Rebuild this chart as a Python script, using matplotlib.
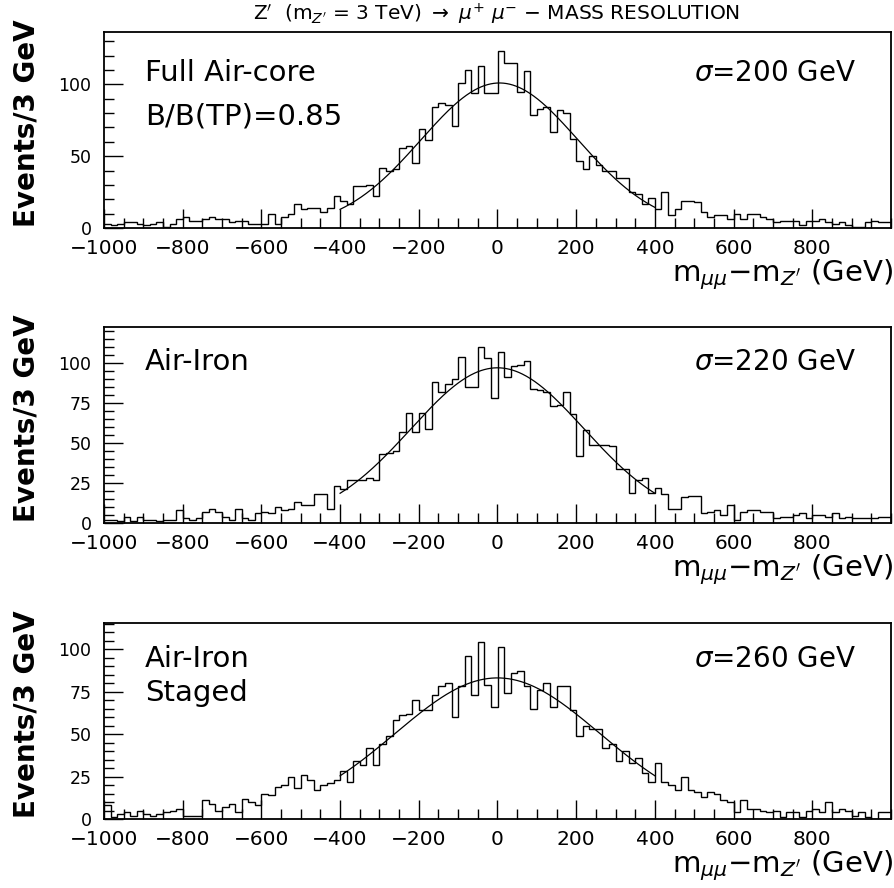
import numpy as np
import matplotlib
matplotlib.use("Agg")
import matplotlib.pyplot as plt
from matplotlib.ticker import MultipleLocator

plt.rcParams['font.family'] = ['DejaVu Sans']

# bin edges: 120 bins of 16.7 GeV between -1000 and 1000
x_lo, x_hi, n_bins = -1000, 1000, 120

# counts per bin
full_aircore = [3, 2, 3, 4, 4, 3, 2, 3, 4, 1, 3, 6, 8, 5, 5, 6, 8, 6, 6, 4, 5, 5, 3, 3, 3, 10, 3, 8, 10, 17, 13, 14, 14, 11, 14, 22,
                19, 17, 29, 29, 30, 22, 42, 40, 41, 56, 57, 45, 69, 61, 84, 87, 86, 71, 101, 110, 94, 113, 94, 94,
                123, 115, 115, 95, 109, 79, 83, 84, 67, 82, 80, 62, 47, 41, 50, 44, 40, 40, 35, 35, 25, 24, 17, 21, 13, 25,
                9, 13, 19, 19, 18, 11, 8, 9, 9, 6, 10, 6, 10, 10, 8, 6, 4, 5, 5, 5, 2, 5, 5, 6, 4, 3, 4, 2, 1, 1, 4, 5, 4, 4]
air_iron = [2, 2, 1, 4, 1, 4, 2, 2, 1, 2, 2, 8, 3, 2, 3, 7, 9, 7, 4, 2, 9, 3, 2, 6, 7, 6, 10, 8, 9, 13, 11, 11, 18, 18, 9, 23,
            21, 27, 27, 27, 28, 27, 43, 44, 45, 57, 69, 57, 69, 59,
            88, 82, 87, 90, 104, 85, 85, 110, 103, 78, 107, 91, 98, 99, 101, 84, 83, 82, 73, 74, 82, 68, 42, 58, 49, 49, 49, 48, 34, 34, 19, 27, 28, 19, 22, 18,
            9, 9, 16, 17, 17, 6, 7, 8, 5, 11, 2, 7, 8, 8, 7, 7, 3, 4, 4, 5, 6, 3, 5, 5, 4, 6, 3, 4, 3, 3, 3, 3, 4, 4]
air_iron_staged = [8, 1, 3, 4, 2, 5, 3, 2, 3, 4, 5, 6, 2, 2, 2, 11, 9, 5, 7, 9, 4, 12, 10, 8, 15, 14, 19, 20, 25, 18, 26, 23, 17, 20, 21, 23,
                   28, 22, 34, 32, 42, 32, 44, 49, 58, 61, 62, 70, 64, 64, 73, 78, 80, 60, 78, 96, 73, 104, 79, 66, 101, 74, 86, 87, 78, 65,
                   76, 80, 66, 78, 78, 64, 49, 55, 53, 53, 42, 44, 34, 40, 33, 36, 27, 22, 33, 22,
                   20, 17, 25, 17, 16, 13, 16, 15, 11, 10, 4, 11, 6, 6, 5, 4, 5, 1, 4, 4, 1, 5, 6, 4, 10, 4, 6, 5, 2, 4, 1, 0, 4, 4]

# gaussian fit parameters (amplitude, mean, sigma), fitted range
fit_amp = [101, 97, 83]
fit_mean = [5, 0, 0]
fit_sigma = [200, 220, 260]
fit_range = (-400, 400)

labels_left = [["Full Air-core", "B/B(TP)=0.85"], ["Air-Iron"], ["Air-Iron", "Staged"]]
labels_sigma = [r"$\sigma$=200 GeV", r"$\sigma$=220 GeV", r"$\sigma$=260 GeV"]
y_tops = [136.5, 122.5, 115.3]
y_major = [50, 25, 25]
y_minor = [10, 5, 5]

W, H = 895, 888
fig = plt.figure(figsize=(W / 100, H / 100), dpi=100)

# axes boxes in pixels (top, bottom), and label rows (pixel y of text centres)
boxes = [(32, 228), (327, 523), (623, 819)]
label_rows = [[73, 117], [362], [659, 693]]
ax_left, ax_right = 104, 891

edges = np.linspace(x_lo, x_hi, n_bins + 1)
series = [full_aircore, air_iron, air_iron_staged]

for i, (top, bot) in enumerate(boxes):
    ax = fig.add_axes([ax_left / W, 1 - bot / H, (ax_right - ax_left) / W, (bot - top) / H])
    ax.stairs(series[i], edges, color='black', lw=1.0, baseline=None)

    xf = np.linspace(fit_range[0], fit_range[1], 300)
    yf = fit_amp[i] * np.exp(-0.5 * ((xf - fit_mean[i]) / fit_sigma[i]) ** 2)
    ax.plot(xf, yf, color='black', lw=0.9)

    ax.set_xlim(x_lo, x_hi)
    ax.set_ylim(0, y_tops[i])
    ax.set_xticks(np.arange(-1000, 1000, 200))
    ax.xaxis.set_minor_locator(MultipleLocator(50))
    ax.yaxis.set_major_locator(MultipleLocator(y_major[i]))
    ax.yaxis.set_minor_locator(MultipleLocator(y_minor[i]))
    ax.tick_params(which='both', direction='in', top=False, right=False, width=1)
    ax.tick_params(which='major', length=14)
    ax.tick_params(which='minor', length=7)
    ax.tick_params(axis='x', labelsize=14.5, pad=8)
    ax.tick_params(axis='y', labelsize=12.5, pad=9)
    for s in ax.spines.values():
        s.set_linewidth(1.3)

    for txt, yc in zip(labels_left[i], label_rows[i]):
        fig.text(145 / W, 1 - yc / H, txt, fontsize=21, ha='left', va='center')
    fig.text(856 / W, 1 - label_rows[i][0] / H, labels_sigma[i], fontsize=20,
             ha='right', va='center')

    fig.text(27 / W, 1 - ((top + bot) / 2 - 7) / H, "Events/3 GeV", rotation=90,
             ha='center', va='center', fontsize=20, fontweight='bold')
    fig.text(893 / W, 1 - (bot + 47) / H, r"m$_{\mu\mu}$$-$m$_{Z'}$ (GeV)",
             ha='right', va='center', fontsize=21)

fig.text(497 / W, 1 - 14 / H, r"Z$'$  (m$_{Z'}$ = 3 TeV) $\rightarrow$ $\mu^{+}$ $\mu^{-}$ $-$ MASS RESOLUTION",
         ha='center', va='center', fontsize=14.5)

fig.savefig("out.png", dpi=100)
